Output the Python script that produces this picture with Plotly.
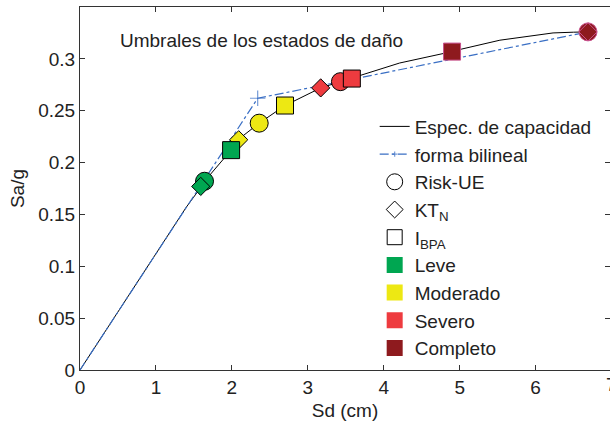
import plotly.graph_objects as go

# ---- data ----
cap_sd = [0.0, 1.0, 1.40, 1.60, 1.64, 1.99, 2.08, 2.36, 2.70, 3.17, 3.43, 3.58, 4.21, 4.90, 5.03, 5.53, 6.23, 6.50, 6.69]
cap_sa = [0.0, 0.112, 0.157, 0.177, 0.182, 0.212, 0.222, 0.238, 0.255, 0.272, 0.278, 0.281, 0.296, 0.307, 0.3095, 0.318, 0.325, 0.3257, 0.326]

bil_sd = [0.0, 2.34, 6.69]
bil_sa = [0.0, 0.262, 0.326]

states = ["Leve", "Moderado", "Severo", "Completo"]
state_colors = ["#00a651", "#ede813", "#ee3b3f", "#8e1a1e"]

riskue_sd = [1.64, 2.36, 3.43, 6.69]
riskue_sa = [0.182, 0.238, 0.278, 0.326]
ktn_sd = [1.59, 2.09, 3.17, 6.69]
ktn_sa = [0.177, 0.222, 0.272, 0.326]
ibpa_sd = [1.99, 2.70, 3.58, 4.90]
ibpa_sa = [0.212, 0.255, 0.281, 0.307]

x_ticks = [0, 1, 2, 3, 4, 5, 6]
y_ticks = [0, 0.05, 0.1, 0.15, 0.2, 0.25, 0.3]
y_tick_text = ["0", "0.05", "0.1", "0.15", "0.2", "0.25", "0.3"]

FONT = "Liberation Sans, Arial, sans-serif"
FS = 19
edge_cols = ["#000000", "#000000", "#000000", "#c8508c"]

fig = go.Figure()

fig.add_trace(go.Scatter(x=cap_sd, y=cap_sa, mode="lines", name="Espec. de capacidad",
                         line=dict(color="#000000", width=1)))
fig.add_trace(go.Scatter(x=bil_sd, y=bil_sa, mode="lines+markers", name="forma bilineal",
                         line=dict(color="#3a6fc4", width=1.2, dash="dashdot"),
                         marker=dict(symbol="cross-thin-open", size=[0, 11, 0],
                                     line=dict(color="#3a6fc4", width=1.2))))

# data markers (circles, then diamonds, then squares)
fig.add_trace(go.Scatter(x=riskue_sd, y=riskue_sa, mode="markers", showlegend=False,
                         marker=dict(symbol="circle", size=18, color=state_colors,
                                     line=dict(color=edge_cols, width=1))))
fig.add_trace(go.Scatter(x=ktn_sd, y=ktn_sa, mode="markers", showlegend=False,
                         marker=dict(symbol="diamond", size=14, color=state_colors,
                                     line=dict(color=edge_cols, width=1))))
fig.add_trace(go.Scatter(x=ibpa_sd, y=ibpa_sa, mode="markers", showlegend=False,
                         marker=dict(symbol="square", size=17, color=state_colors,
                                     line=dict(color=edge_cols, width=1))))

# legend-only entries
fig.add_trace(go.Scatter(x=[None], y=[None], mode="markers", name="Risk-UE",
                         marker=dict(symbol="circle-open", size=16, color="#000000", line=dict(width=1))))
fig.add_trace(go.Scatter(x=[None], y=[None], mode="markers", name="KT<sub>N</sub>",
                         marker=dict(symbol="diamond-open", size=13, color="#000000", line=dict(width=1))))
fig.add_trace(go.Scatter(x=[None], y=[None], mode="markers", name="I<sub>BPA</sub>",
                         marker=dict(symbol="square-open", size=15, color="#000000", line=dict(width=1))))
for s, c in zip(states, state_colors):
    fig.add_trace(go.Scatter(x=[None], y=[None], mode="markers", name=s,
                             marker=dict(symbol="square", size=16, color=c, line=dict(width=0))))

axis_common = dict(showgrid=False, zeroline=False, showline=True, linecolor="#333333", linewidth=1,
                   ticks="inside", ticklen=5, tickcolor="#333333", mirror="ticks",
                   tickfont=dict(family=FONT, size=FS, color="#222222"))

fig.update_layout(
    width=610, height=422,
    margin=dict(l=80, r=0, t=7, b=52),
    paper_bgcolor="white", plot_bgcolor="white",
    font=dict(family=FONT, size=FS, color="#222222"),
    xaxis=dict(range=[0, 6.98], tickvals=x_ticks, ticktext=[str(v) for v in x_ticks],
               title=dict(text="Sd (cm)", font=dict(family=FONT, size=FS), standoff=6), **axis_common),
    yaxis=dict(range=[0, 0.35], tickvals=y_ticks, ticktext=y_tick_text,
               title=dict(text="Sa/g", font=dict(family=FONT, size=FS), standoff=8), **axis_common),
    legend=dict(x=0.556, y=0.723, xanchor="left", yanchor="top", bgcolor="rgba(0,0,0,0)",
                borderwidth=0, font=dict(family=FONT, size=FS, color="#222222"),
                tracegroupgap=0, itemsizing="trace"),
    showlegend=True,
    annotations=[
        dict(text="Umbrales de los estados de daño", xref="paper", yref="paper",
             x=0.0717, y=0.909, xanchor="left", yanchor="middle", showarrow=False,
             font=dict(family=FONT, size=FS, color="#222222")),
        dict(text="7", xref="paper", yref="paper", x=7 / 6.98, y=0, yanchor="top",
             xanchor="center", yshift=-2, showarrow=False,
             font=dict(family=FONT, size=FS, color="#222222")),
    ],
)

fig.write_html("out.html")
